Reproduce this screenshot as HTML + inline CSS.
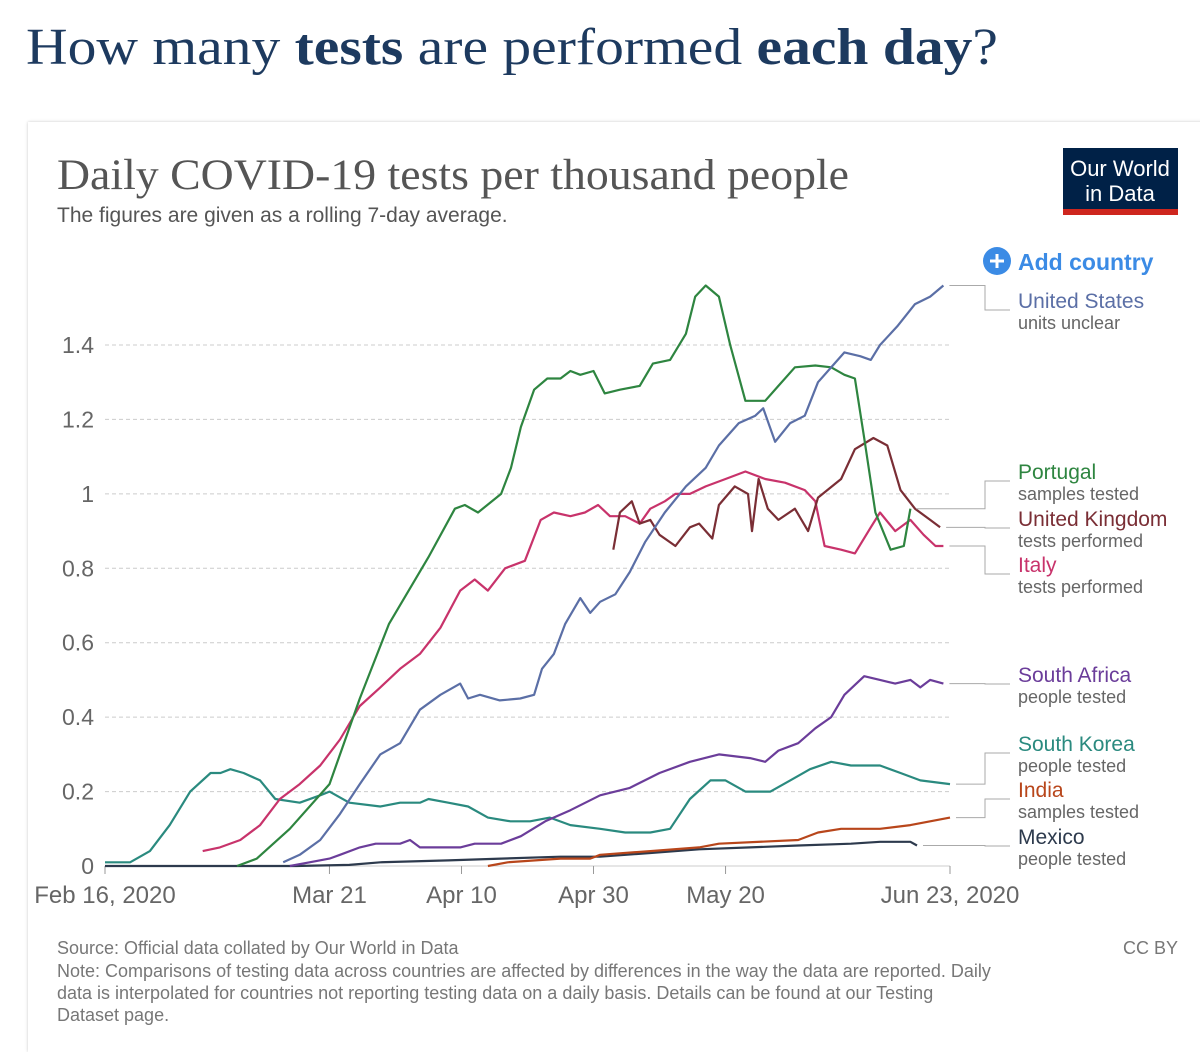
<!DOCTYPE html>
<html><head><meta charset="utf-8"><style>
body{margin:0;width:1200px;height:1041px;background:#fff;font-family:"Liberation Sans",sans-serif;overflow:hidden;position:relative}
.card{position:absolute;left:28px;top:122px;width:1180px;height:930px;background:#fff;box-shadow:0 0 3px rgba(0,0,0,.22)}
</style></head><body>
<div class="card"></div>
<svg id="c" width="1200" height="1041" style="position:absolute;left:0;top:0">
<text x="26" y="64" font-family="Liberation Serif,serif" font-size="52" fill="#1d3a5f" textLength="972" lengthAdjust="spacingAndGlyphs">How many <tspan font-weight="bold">tests</tspan> are performed <tspan font-weight="bold">each day</tspan>?</text>
<text x="57" y="189" font-family="Liberation Serif,serif" font-size="43" fill="#555" textLength="792" lengthAdjust="spacingAndGlyphs">Daily COVID-19 tests per thousand people</text>
<text x="57" y="222" font-size="21" fill="#555">The figures are given as a rolling 7-day average.</text>
<g><rect x="1063" y="148" width="115" height="66" fill="#002147"/><rect x="1063" y="209" width="115" height="6" fill="#ce261e"/>
<text x="1120" y="176" font-size="22" fill="#fff" text-anchor="middle">Our World</text><text x="1120" y="201" font-size="22" fill="#fff" text-anchor="middle">in Data</text></g>
<g><circle cx="997" cy="261" r="14" fill="#3b8be5"/><path d="M990 261h14M997 254v14" stroke="#fff" stroke-width="3"/>
<text x="1018" y="270" font-size="23" font-weight="bold" fill="#3b8be5">Add country</text></g>
<g id="grid"></g><g id="lines"></g><g id="labels"></g>
<text x="57" y="954" font-size="18" fill="#777">Source: Official data collated by Our World in Data</text>
<text x="1178" y="954" font-size="18" fill="#777" text-anchor="end">CC BY</text>
<g font-size="18" fill="#777">
<text x="57" y="977">Note: Comparisons of testing data across countries are affected by differences in the way the data are reported. Daily</text>
<text x="57" y="999">data is interpolated for countries not reporting testing data on a daily basis. Details can be found at our Testing</text>
<text x="57" y="1021">Dataset page.</text></g>
</svg>
<script>
const yTicks=[0,0.2,0.4,0.6,0.8,1,1.2,1.4];
const yTickLabels=["0","0.2","0.4","0.6","0.8","1","1.2","1.4"];
const xTicks=[0,34,54,74,94,128];
const xTickLabels=["Feb 16, 2020","Mar 21","Apr 10","Apr 30","May 20","Jun 23, 2020"];
const seriesNames=["United States","Portugal","United Kingdom","Italy","South Africa","South Korea","India","Mexico"];
const seriesColors=["#5b6fa6","#2e8540","#7a2e35","#c8336b","#6b3d9a","#2a8a7f","#b8461b","#2d3a4d"];
const usDays=[27,29.5,32.6,35.6,38.6,41.7,44.7,47.7,50.8,53.8,55,56.8,59.8,62.9,65,66.2,68,69.7,72,73.5,75,77.3,79.5,81.8,84.8,88,91,93,96,98.5,99.7,101.5,103.8,106,108,112,114.4,116,117.4,120,122.7,125,127];
const usVals=[0.01,0.03,0.07,0.14,0.22,0.3,0.33,0.42,0.46,0.49,0.45,0.46,0.445,0.45,0.46,0.53,0.57,0.65,0.72,0.68,0.71,0.73,0.79,0.87,0.95,1.02,1.07,1.13,1.19,1.21,1.23,1.14,1.19,1.21,1.3,1.38,1.37,1.36,1.4,1.45,1.51,1.53,1.56];
const ptDays=[20,23,28,34,38.6,43,49,53,54.5,56.5,60,61.5,63,65,67,69,70.5,72,74,75.7,78,81,83,85.6,88,89.4,91,93,94.7,97,100,102,104.5,107.6,110,112,113.6,115,116.7,119,121,122];
const ptVals=[0,0.02,0.1,0.22,0.45,0.65,0.83,0.96,0.97,0.95,1.0,1.07,1.18,1.28,1.31,1.31,1.33,1.32,1.33,1.27,1.28,1.29,1.35,1.36,1.43,1.53,1.56,1.53,1.4,1.25,1.25,1.29,1.34,1.345,1.34,1.32,1.31,1.15,0.95,0.85,0.86,0.96];
const ukDays=[77,78,79.8,81,82.6,84,86.4,88.6,90,92,93,95.4,97.4,98,99,100.4,102,104.5,106.5,108,111.5,113.6,116.4,118.5,120.5,122.7,125,126.5];
const ukVals=[0.85,0.95,0.98,0.92,0.93,0.89,0.86,0.91,0.92,0.88,0.97,1.02,1.0,0.9,1.04,0.96,0.93,0.96,0.9,0.99,1.04,1.12,1.15,1.13,1.01,0.96,0.93,0.91];
const itDays=[14.8,17.4,20.5,23.5,26.5,29.5,32.6,35.6,38.6,41.7,44.7,47.7,50.8,53.8,56,58,60.6,63.6,66,68,70.5,72.7,74.7,76.5,78.8,81,82.6,84.8,86.4,88.6,91,94,97,100,103,106,107.6,109,111.5,113.6,116,117.4,119.7,122,124,125.8,127];
const itVals=[0.04,0.05,0.07,0.11,0.18,0.22,0.27,0.34,0.43,0.48,0.53,0.57,0.64,0.74,0.77,0.74,0.8,0.82,0.93,0.95,0.94,0.95,0.97,0.94,0.94,0.92,0.96,0.98,1.0,1.0,1.02,1.04,1.06,1.04,1.03,1.01,0.98,0.86,0.85,0.84,0.91,0.95,0.9,0.93,0.89,0.86,0.86];
const zaDays=[28,31,34,35.6,38.6,41,44.7,46.2,47.7,53.8,56,60,63,66.7,70.5,75,79.5,84,88.6,93,97.7,100,102,105,107.6,110,112,115,117.4,119.7,122,123.5,125,127];
const zaVals=[0,0.01,0.02,0.03,0.05,0.06,0.06,0.07,0.05,0.05,0.06,0.06,0.08,0.12,0.15,0.19,0.21,0.25,0.28,0.3,0.29,0.28,0.31,0.33,0.37,0.4,0.46,0.51,0.5,0.49,0.5,0.48,0.5,0.49];
const krDays=[0,3.8,6.8,9.8,12.9,16,17.5,19,21,23.5,25.8,29.5,32.6,34,37,41.7,44.7,47.7,49,52,55,58,61.4,64.4,67.4,70.5,75,78.8,82.6,85.6,88.6,91.7,94,97,100.8,103.8,106.8,110,113,117.4,120.5,123.5,128];
const krVals=[0.01,0.01,0.04,0.11,0.2,0.25,0.25,0.26,0.25,0.23,0.18,0.17,0.19,0.2,0.17,0.16,0.17,0.17,0.18,0.17,0.16,0.13,0.12,0.12,0.13,0.11,0.1,0.09,0.09,0.1,0.18,0.23,0.23,0.2,0.2,0.23,0.26,0.28,0.27,0.27,0.25,0.23,0.22];
const inDays=[58,61,69,73.5,75,82.6,90,93,105,108,111.5,117.4,122,128];
const inVals=[0,0.01,0.02,0.02,0.03,0.04,0.05,0.06,0.07,0.09,0.1,0.1,0.11,0.13];
const mxDays=[0,29,37,41.7,52,60,69,75,82.6,90,97.7,105,113,117.4,122,123];
const mxVals=[0,0,0.003,0.01,0.015,0.02,0.025,0.025,0.035,0.045,0.05,0.055,0.06,0.065,0.065,0.055];
const allDays=[usDays,ptDays,ukDays,itDays,zaDays,krDays,inDays,mxDays];
const allVals=[usVals,ptVals,ukVals,itVals,zaVals,krVals,inVals,mxVals];
const labelNames=["United States","Portugal","United Kingdom","Italy","South Africa","South Korea","India","Mexico"];
const labelSubs=["units unclear","samples tested","tests performed","tests performed","people tested","people tested","samples tested","people tested"];

const x=d=>105+d*(950-105)/128;
const y=v=>866-v*(866-345)/1.4;
const NS="http://www.w3.org/2000/svg";
function mk(t,a,p){const e=document.createElementNS(NS,t);for(const k in a)e.setAttribute(k,a[k]);p.appendChild(e);return e;}
const grid=document.getElementById('grid');
yTicks.forEach((t,i)=>{
  const l=mk('line',{x1:105,x2:950,y1:y(t),y2:y(t),stroke:'#ccc','stroke-dasharray':t===0?'':'4,3'},grid);
  
  
  const tx=mk('text',{x:94,y:y(t)+8,'font-size':23,fill:'#666','text-anchor':'end'},grid);tx.textContent=yTickLabels[i];
  
  
});
xTicks.forEach((t,i)=>{
  const l=mk('line',{x1:x(t),x2:x(t),y1:866,y2:874,stroke:'#999'},grid);
  
  
  const tx=mk('text',{x:x(t),y:903,'font-size':24,fill:'#666','text-anchor':'middle'},grid);tx.textContent=xTickLabels[i];
  
  
});
const lines=document.getElementById('lines');
for(let s=allDays.length-1;s>=0;s--){
  const d=allDays[s].map((dd,i)=>(i?'L':'M')+x(dd).toFixed(1)+' '+y(allVals[s][i]).toFixed(1)).join('');
  const p=mk('path',{d:d,fill:'none',stroke:seriesColors[s],'stroke-width':2.2,'stroke-linejoin':'round'},lines);
  
  
}
const labY=[300,471,518,564,674,743,789,836];
const labs=document.getElementById('labels');
labelNames.forEach((n,i)=>{
  const dd=allDays[i],vv=allVals[i];
  const ey=y(vv[vv.length-1]);
  const p=mk('path',{d:`M${x(dd[dd.length-1])+6} ${ey}H985V${labY[i]+10}H1010`,fill:'none',stroke:'#aaa'},labs);
  
  
  const t=mk('text',{x:1018,y:labY[i]+8,'font-size':21,fill:seriesColors[i]},labs);t.textContent=n;
  
  
  const t2=mk('text',{x:1018,y:labY[i]+29,'font-size':18,fill:'#666'},labs);t2.textContent=labelSubs[i];
  
  
});
</script>
</body></html>
